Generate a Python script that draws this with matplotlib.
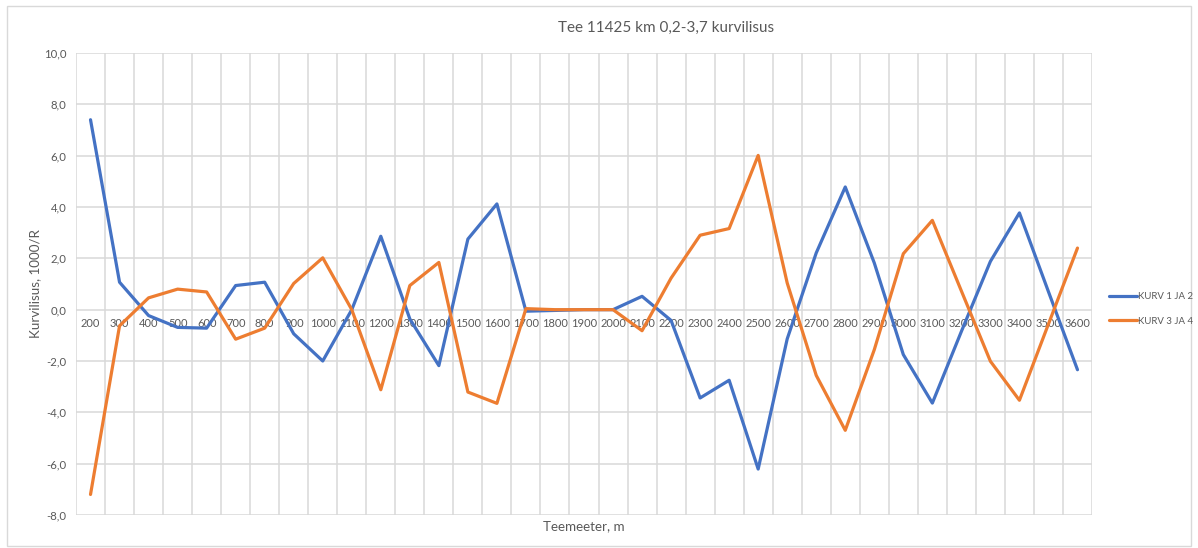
import matplotlib
matplotlib.use("Agg")
import matplotlib.pyplot as plt
from matplotlib.patches import Rectangle

# Road 11425, km 0.2-3.7: curvature per 100 m station
stations = [str(s) for s in range(200, 3700, 100)]
kurv_1_ja_2 = [7.4, 1.07, -0.23, -0.69, -0.72, 0.94, 1.07, -0.94, -2.0, 0.0,
               2.86, -0.36, -2.18, 2.75, 4.12, -0.06, -0.03, 0.0, 0.0, 0.52,
               -0.42, -3.44, -2.75, -6.21, -1.14, 2.21, 4.78, 1.82, -1.75, -3.64,
               -0.85, 1.88, 3.77, 0.7, -2.34]
kurv_3_ja_4 = [-7.2, -0.63, 0.46, 0.8, 0.69, -1.15, -0.72, 1.02, 2.02, 0.0,
               -3.12, 0.94, 1.84, -3.21, -3.65, 0.04, 0.0, 0.0, 0.0, -0.82,
               1.23, 2.9, 3.16, 6.01, 1.04, -2.56, -4.7, -1.56, 2.18, 3.48,
               0.73, -2.01, -3.53, -0.56, 2.4]
y_ticks = [-8, -6, -4, -2, 0, 2, 4, 6, 8, 10]

BLUE = "#4472C4"
ORANGE = "#ED7D31"
GRID = "#D9D9D9"
TEXT = "#595959"
FONT = "Lato"

W, H = 1198, 548
fig = plt.figure(figsize=(W / 100, H / 100), dpi=100)
fig.patch.set_facecolor("white")

# chart frame
fig.patches.append(Rectangle((7 / W, 1 - 546 / H), 1184 / W, 540 / H,
                             transform=fig.transFigure, fill=False,
                             edgecolor=GRID, linewidth=1))

left, top, right, bottom = 76, 53, 1092, 515
ax = fig.add_axes([left / W, 1 - bottom / H, (right - left) / W, (bottom - top) / H])

x = list(range(len(stations)))
ax.set_xlim(-0.5, len(stations) - 0.5)
ax.set_ylim(y_ticks[0], y_ticks[-1])

# gridlines at category boundaries and at every y tick
ax.set_xticks([i - 0.5 for i in range(len(stations) + 1)])
ax.set_yticks(y_ticks)
ax.grid(True, color=GRID, linewidth=1.1)
ax.set_axisbelow(True)
ax.tick_params(length=0, labelbottom=False)
ax.set_yticklabels([f"{v:.1f}".replace(".", ",") for v in y_ticks],
                   fontfamily=FONT, fontsize=8.2, color=TEXT)
ax.tick_params(axis="y", pad=7)
for s in ax.spines.values():
    s.set_visible(False)

ax.plot(x, kurv_1_ja_2, color=BLUE, linewidth=2.3, label="KURV 1 JA 2",
        solid_joinstyle="round", solid_capstyle="round")
ax.plot(x, kurv_3_ja_4, color=ORANGE, linewidth=2.3, label="KURV 3 JA 4",
        solid_joinstyle="round", solid_capstyle="round")

# category labels sit next to the zero axis
for i, lab in enumerate(stations):
    ax.annotate(lab, (i, 0), xytext=(0, -10), textcoords="offset points",
                ha="center", va="center", fontfamily=FONT, fontsize=8.0,
                color=TEXT, zorder=1)

fig.text(666 / W, 1 - 28 / H, "Tee 11425 km 0,2-3,7 kurvilisus",
         ha="center", va="center", fontfamily=FONT, fontsize=11, color=TEXT)
fig.text(584 / W, 1 - 526 / H, "Teemeeter, m", ha="center", va="center",
         fontfamily=FONT, fontsize=9.6, color=TEXT)
fig.text(35 / W, 1 - 284 / H, "Kurvilisus, 1000/R", ha="center", va="center",
         rotation=90, fontfamily=FONT, fontsize=9.6, color=TEXT)

leg = fig.legend(loc="center left", bbox_to_anchor=(1100 / W, 1 - 309 / H),
                 frameon=False, prop={"family": FONT, "size": 6.9},
                 handlelength=3.0, handletextpad=0.1, labelspacing=1.6,
                 labelcolor=TEXT)

fig.savefig("out.png", dpi=100)
